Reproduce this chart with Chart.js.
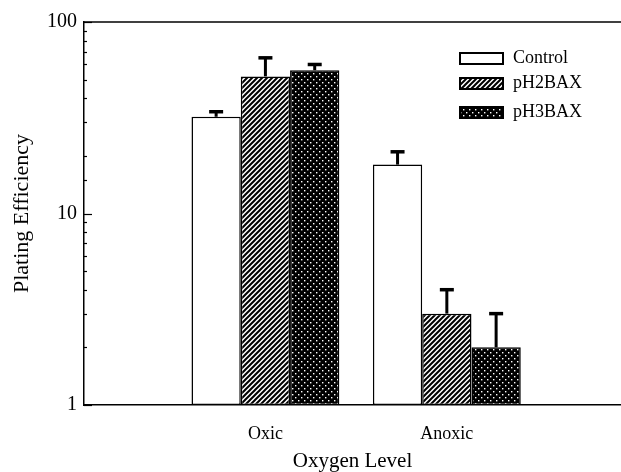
<!DOCTYPE html>
<html>
<head>
<meta charset="utf-8">
<script src="https://cdn.jsdelivr.net/npm/chart.js@4.4.1/dist/chart.umd.min.js"></script>
<style>
    html, body { margin: 0; padding: 0; background: #ffffff; }
    #wrap { width: 621px; height: 472px; position: relative; }
</style>
</head>
<body>
<div id="wrap"><canvas id="plating"></canvas></div>
<script>
// Data (y is log scale).
const groups = ["Oxic", "Anoxic"];
const groupPos = [1, 2];
const seriesNames = ["Control", "pH2BAX", "pH3BAX"];
const control = [32, 18];
const controlErr = [2, 3];
const ph2bax = [52, 3];
const ph2baxErr = [13, 1];
const ph3bax = [56, 2];
const ph3baxErr = [4, 1];
const yTicks = [1, 10, 100];

const serif = "'Liberation Serif', 'DejaVu Serif', serif";

/**
 * Builds a small repeating canvas pattern.
 * */
function makePattern(size, draw) {
    const c = document.createElement("canvas");
    c.width = size;
    c.height = size;
    const g = c.getContext("2d");
    draw(g, size);
    return g.createPattern(c, "repeat");
}

const hatch = makePattern(5, (g, s) => {
    g.fillStyle = "#ffffff";
    g.fillRect(0, 0, s, s);
    g.strokeStyle = "#000000";
    g.lineWidth = 2;
    g.beginPath();
    g.moveTo(-1, s + 1); g.lineTo(s + 1, -1);
    g.moveTo(-2, 2); g.lineTo(2, -2);
    g.moveTo(s - 2, s + 2); g.lineTo(s + 2, s - 2);
    g.stroke();
});

const dots = makePattern(6, (g, s) => {
    g.fillStyle = "#000000";
    g.fillRect(0, 0, s, s);
    g.fillStyle = "#ffffff";
    g.fillRect(1, 1, 1.4, 1.4);
    g.fillRect(4, 4, 1.4, 1.4);
});

const fills = ["#ffffff", hatch, dots];
const values = [control, ph2bax, ph3bax];
const errors = [controlErr, ph2baxErr, ph3baxErr];

function toPoints(vals) {
    return vals.map((v, i) => ({ x: groupPos[i], y: v }));
}

// Error bars, inward ticks, top frame line and legend.
const decorations = {
    id: "decorations",
    afterDatasetsDraw(chart) {
        const ctx = chart.ctx;
        const y = chart.scales.y;
        const area = chart.chartArea;
        ctx.save();
        ctx.strokeStyle = "#000000";
        ctx.lineCap = "butt";

        // error bars (upper only)
        values.forEach((vals, d) => {
            const meta = chart.getDatasetMeta(d);
            meta.data.forEach((bar, i) => {
                const top = y.getPixelForValue(vals[i] + errors[d][i]);
                ctx.lineWidth = 3;
                ctx.beginPath();
                ctx.moveTo(bar.x, bar.y);
                ctx.lineTo(bar.x, top);
                ctx.stroke();
                ctx.lineWidth = 3.5;
                ctx.beginPath();
                ctx.moveTo(bar.x - 7, top);
                ctx.lineTo(bar.x + 7, top);
                ctx.stroke();
            });
        });

        // minor / major ticks pointing into the plot
        ctx.lineWidth = 1.2;
        y.ticks.forEach(t => {
            const major = Math.abs(Math.log10(t.value) % 1) < 1e-9;
            const py = Math.round(y.getPixelForValue(t.value)) + 0.5;
            ctx.beginPath();
            ctx.moveTo(area.left, py);
            ctx.lineTo(area.left + (major ? 8 : 3), py);
            ctx.stroke();
        });

        // top frame line
        ctx.lineWidth = 1.5;
        ctx.beginPath();
        ctx.moveTo(area.left, area.top);
        ctx.lineTo(area.right, area.top);
        ctx.stroke();

        // legend
        const boxY = [53, 78, 107];
        ctx.font = "18px " + serif;
        ctx.textBaseline = "middle";
        seriesNames.forEach((name, i) => {
            ctx.fillStyle = fills[i];
            ctx.fillRect(460, boxY[i], 43, 11);
            ctx.lineWidth = 2;
            ctx.strokeRect(460, boxY[i], 43, 11);
            ctx.fillStyle = "#000000";
            ctx.fillText(name, 513, boxY[i] + 5);
        });
        ctx.restore();
    }
};

new Chart(document.getElementById("plating").getContext("2d"), {
    type: "bar",
    data: {
        datasets: seriesNames.map((name, i) => ({
            label: name,
            data: toPoints(values[i]),
            backgroundColor: fills[i],
            borderColor: "#000000",
            borderWidth: 1.5,
            borderSkipped: false,
            categoryPercentage: 0.815,
            barPercentage: 1.0
        }))
    },
    options: {
        responsive: true,
        maintainAspectRatio: false,
        animation: false,
        layout: { padding: { top: 22, right: 0, left: 0, bottom: 0 } },
        plugins: {
            legend: { display: false },
            tooltip: { enabled: false }
        },
        scales: {
            x: {
                type: "linear",
                min: 0,
                max: 2.96,
                offset: false,
                afterBuildTicks: scale => {
                    scale.ticks = groupPos.map(v => ({ value: v }));
                },
                afterFit: scale => { scale.height = 67; },
                grid: { display: false, drawTicks: false, offset: false },
                border: { display: true, color: "#000000", width: 1.5 },
                ticks: {
                    autoSkip: false,
                    maxRotation: 0,
                    padding: 18,
                    color: "#000000",
                    font: { family: serif, size: 18 },
                    callback: (v, i) => groups[i]
                },
                title: {
                    display: true,
                    text: "Oxygen Level",
                    color: "#000000",
                    font: { family: serif, size: 21, lineHeight: 1 },
                    padding: { top: 0, bottom: 0 }
                }
            },
            y: {
                type: "logarithmic",
                min: 1,
                max: 100,
                afterFit: scale => { scale.width = 84; },
                grid: { display: false, drawTicks: false },
                border: { display: true, color: "#000000", width: 1.5 },
                ticks: {
                    autoSkip: false,
                    padding: 7,
                    color: "#000000",
                    font: { family: serif, size: 20 },
                    callback: v => yTicks.includes(v) ? String(v) : ""
                },
                title: {
                    display: true,
                    text: "Plating Efficiency",
                    color: "#000000",
                    font: { family: serif, size: 22 },
                    padding: { top: 9, bottom: 0 }
                }
            }
        }
    },
    plugins: [decorations]
});
</script>
</body>
</html>
